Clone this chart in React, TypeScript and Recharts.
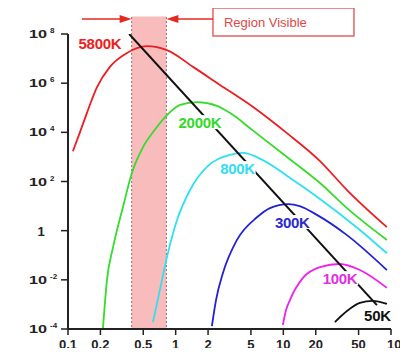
import { LineChart, Line, XAxis, YAxis, ReferenceArea, ReferenceLine, ReferenceDot } from "recharts";

const WAVE_TICKS = [0.1, 0.2, 0.5, 1, 2, 5, 10, 20, 50, 100];
const POWER_TICKS = [1e-4, 1e-2, 1, 1e2, 1e4, 1e6, 1e8];

// wavelength (µm) vs spectral exitance
const T5800 = [
  { w: 0.111, v: 1.7e3 },
  { w: 0.129, v: 1.0e4 },
  { w: 0.15, v: 6.2e4 },
  { w: 0.186, v: 6.9e5 },
  { w: 0.245, v: 4.6e6 },
  { w: 0.353, v: 1.7e7 },
  { w: 0.54, v: 3.2e7 },
  { w: 0.83, v: 2.2e7 },
  { w: 1.45, v: 4.6e6 },
  { w: 2.58, v: 8.5e5 },
  { w: 5.2, v: 1.1e5 },
  { w: 10.8, v: 9.3e3 },
  { w: 21.9, v: 6.8e2 },
  { w: 39, v: 45 },
  { w: 91.6, v: 1.4 },
];

const T2000 = [
  { w: 0.211, v: 1e-4 },
  { w: 0.23, v: 9.8e-3 },
  { w: 0.262, v: 0.21 },
  { w: 0.324, v: 9.1 },
  { w: 0.392, v: 2.2e2 },
  { w: 0.497, v: 2.5e3 },
  { w: 0.643, v: 1.3e4 },
  { w: 0.83, v: 5.0e4 },
  { w: 1.1, v: 1.3e5 },
  { w: 1.58, v: 1.7e5 },
  { w: 2.42, v: 1.2e5 },
  { w: 3.19, v: 6.2e4 },
  { w: 5.2, v: 1.2e4 },
  { w: 10.8, v: 1.0e3 },
  { w: 21.9, v: 87 },
  { w: 39, v: 8.3 },
  { w: 91.6, v: 0.42 },
];

const T800 = [
  { w: 0.615, v: 1.9e-4 },
  { w: 0.714, v: 3.9e-3 },
  { w: 0.83, v: 0.085 },
  { w: 1.03, v: 2.7 },
  { w: 1.36, v: 45 },
  { w: 1.95, v: 3.9e2 },
  { w: 3.19, v: 1.2e3 },
  { w: 4.22, v: 1.45e3 },
  { w: 6.44, v: 7.4e2 },
  { w: 12.3, v: 1.15e2 },
  { w: 21.9, v: 19.5 },
  { w: 51.4, v: 1.07 },
  { w: 91.6, v: 0.12 },
];

const T300 = [
  { w: 2.17, v: 1.3e-4 },
  { w: 2.37, v: 1.5e-3 },
  { w: 2.75, v: 0.019 },
  { w: 3.71, v: 0.42 },
  { w: 5.69, v: 3.5 },
  { w: 7.52, v: 8.3 },
  { w: 11.1, v: 12 },
  { w: 14.2, v: 10 },
  { w: 20.5, v: 4.4 },
  { w: 39, v: 0.66 },
  { w: 91.6, v: 0.025 },
];

const T100 = [
  { w: 9.9, v: 1.45e-4 },
  { w: 10.6, v: 5.9e-4 },
  { w: 11.5, v: 1.5e-3 },
  { w: 15.2, v: 0.012 },
  { w: 21.9, v: 0.033 },
  { w: 33.5, v: 0.044 },
  { w: 51.4, v: 0.025 },
  { w: 91.6, v: 4.7e-3 },
];

const T50 = [
  { w: 30.1, v: 1.9e-4 },
  { w: 39, v: 5.4e-4 },
  { w: 51.4, v: 1.15e-3 },
  { w: 67.7, v: 1.4e-3 },
  { w: 91.6, v: 1.05e-3 },
];

// peak line (Wien)
const WIEN = [
  { w: 0.37, v: 1e8 },
  { w: 74, v: 9.3e-4 },
];

const VISIBLE = [0.39, 0.82];

const TAGS = [
  { text: "5800K", w: 0.198, v: 4.3e7, color: "#ee2020" },
  { text: "2000K", w: 1.68, v: 2.6e4, color: "#33d92a" },
  { text: "800K", w: 3.75, v: 3.5e2, color: "#33dcee" },
  { text: "300K", w: 12.1, v: 2.24, color: "#2a2ad0" },
  { text: "100K", w: 33.6, v: 0.0117, color: "#e030e0" },
  { text: "50K", w: 74.8, v: 3.4e-4, color: "#111" },
];

const FONT = "'Liberation Sans', Arial, sans-serif";
const ARROW_RED = "#e8281e";

function XTick(props: any) {
  const { x, y, payload } = props;
  const last = payload.value === 100;
  return (
    <text x={last ? x - 4 : x} y={y + 12} textAnchor={last ? "start" : "middle"} fill="#222" fontSize={13} fontWeight="bold" fontFamily={FONT}>
      {payload.value}
    </text>
  );
}

function YTick(props: any) {
  const { x, y, payload } = props;
  const p = Math.round(Math.log10(payload.value));
  if (p === 0) {
    return (
      <text x={x - 6} y={y + 5} textAnchor="middle" fill="#222" fontSize={13} fontWeight="bold" fontFamily={FONT}>
        1
      </text>
    );
  }
  return (
    <g fill="#222" fontWeight="bold" fontFamily={FONT}>
      <text x={x - 18} y={y + 4} fontSize={11} textLength={18} lengthAdjust="spacingAndGlyphs">
        10
      </text>
      <text x={x + 3} y={y - 1} fontSize={8}>
        {p}
      </text>
    </g>
  );
}

function Arrow(props: any) {
  const { x1, y1, x2, y2 } = props;
  const dir = Math.sign(x2 - x1);
  return (
    <g>
      <line x1={x1} y1={y1} x2={x2 - dir * 9} y2={y2} stroke={ARROW_RED} strokeWidth={1.5} />
      <polygon points={`${x2},${y2} ${x2 - dir * 12},${y2 - 4} ${x2 - dir * 12},${y2 + 4}`} fill={ARROW_RED} />
    </g>
  );
}

function Tag(props: any) {
  const { cx, cy, text, color } = props;
  const w = text.length * 8.6 + 2;
  return (
    <g>
      <rect x={cx - w / 2} y={cy - 7} width={w} height={14} fill="#fff" />
      <text x={cx} y={cy + 5.5} textAnchor="middle" fill={color} fontSize={15} fontWeight="bold" fontFamily={FONT} letterSpacing={-0.3}>
        {text}
      </text>
    </g>
  );
}

export default function App() {
  const curves = [
    { data: T5800, color: "#ee1d23" },
    { data: T2000, color: "#35dc2c" },
    { data: T800, color: "#30e0f0" },
    { data: T300, color: "#2121d8" },
    { data: T100, color: "#ee22ee" },
    { data: T50, color: "#111" },
  ];
  return (
    <div style={{ margin: -8, width: 408, height: 356, background: "#fff" }}>
      <LineChart width={408} height={356} margin={{ top: 34, right: 17, left: 0, bottom: 0 }} style={{ fontFamily: FONT }}>
        <XAxis
          dataKey="w"
          type="number"
          scale="log"
          domain={[0.1, 100]}
          ticks={WAVE_TICKS}
          interval={0}
          allowDataOverflow
          height={27}
          tickSize={6}
          tick={<XTick />}
          axisLine={{ stroke: "#222", strokeWidth: 2 }}
          tickLine={{ stroke: "#222", strokeWidth: 1.5 }}
        />
        <YAxis
          type="number"
          scale="log"
          domain={[1e-4, 1e8]}
          ticks={POWER_TICKS}
          interval={0}
          allowDataOverflow
          width={68}
          tickSize={7}
          tickMargin={14}
          tick={<YTick />}
          axisLine={{ stroke: "#222", strokeWidth: 2 }}
          tickLine={{ stroke: "#222", strokeWidth: 1.5 }}
        />
        <ReferenceArea x1={VISIBLE[0]} x2={VISIBLE[1]} y1={1e-4} y2={5.2e8} fill="#f9bcbc" fillOpacity={1} stroke="none" ifOverflow="visible" />
        {VISIBLE.map((w) => (
          <ReferenceLine
            key={w}
            segment={[{ x: w, y: 4.9e8 }, { x: w, y: 1e-4 }]}
            stroke="#8a6f72"
            strokeWidth={1}
            strokeDasharray="2 2"
            ifOverflow="visible"
          />
        ))}
        <ReferenceLine segment={[{ x: 0.135, y: 4.1e8 }, { x: VISIBLE[0], y: 4.1e8 }]} ifOverflow="visible" shape={<Arrow />} />
        <ReferenceLine segment={[{ x: 2.22, y: 4.1e8 }, { x: VISIBLE[1], y: 4.1e8 }]} ifOverflow="visible" shape={<Arrow />} />
        <ReferenceArea
          x1={2.22}
          x2={45.3}
          y1={8.3e7}
          y2={1.14e9}
          fill="#fff"
          fillOpacity={1}
          stroke="#e86262"
          strokeWidth={1.5}
          ifOverflow="visible"
          label={{ value: "Region Visible", position: "insideLeft", offset: 11, fill: "#e04848", fontSize: 13, fontFamily: FONT }}
        />
        {curves.map((c, i) => (
          <Line key={i} data={c.data} dataKey="v" type="monotone" stroke={c.color} strokeWidth={1.8} dot={false} isAnimationActive={false} />
        ))}
        <Line data={WIEN} dataKey="v" type="linear" stroke="#111" strokeWidth={2} dot={false} isAnimationActive={false} />
        {TAGS.map((t) => (
          <ReferenceDot key={t.text} x={t.w} y={t.v} r={0} ifOverflow="visible" shape={(p: any) => <Tag {...p} text={t.text} color={t.color} />} />
        ))}
      </LineChart>
    </div>
  );
}
